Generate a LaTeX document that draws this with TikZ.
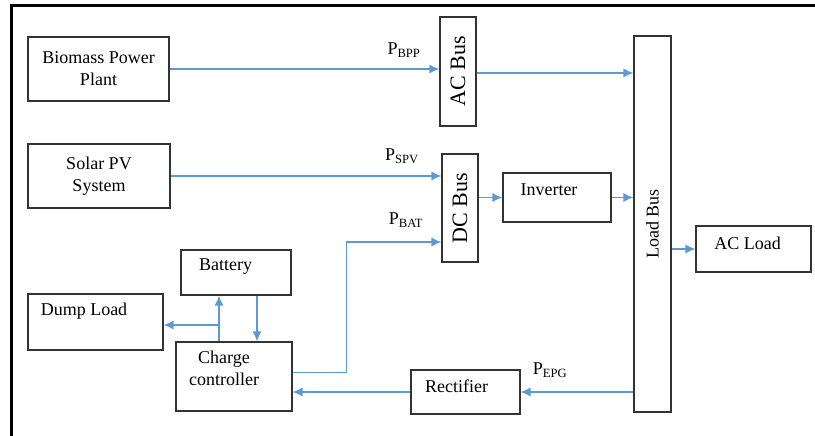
\documentclass[tikz,border=0pt]{standalone}
\usepackage{fontspec}
\setmainfont{Liberation Serif}
\usetikzlibrary{arrows.meta}
\definecolor{flowblue}{HTML}{5B9BD5}
\tikzset{
  box/.style={draw=black!80, line width=1.1pt, inner sep=0pt, align=center},
  flow/.style={draw=flowblue, line width=1.3pt, -{Latex[length=10pt,width=9pt]}},
  power/.style={inner sep=0pt}
}
\begin{document}
\begin{tikzpicture}[x=1pt,y=-1pt]
  \fontsize{18}{22}\selectfont
  \useasboundingbox (0,0) rectangle (815,436);
  \draw[line width=3pt] (11,436) -- (11,6) -- (815,6);
  % sources
  \node[box, minimum width=141, minimum height=64] (bpp) at (98.5,69) {Biomass Power\\Plant};
  \node[box, minimum width=142, minimum height=64] (spv) at (99,176) {Solar PV\\System};
  % buses
  \node[box, minimum width=36, minimum height=109] (acbus) at (458,71.5) {\fontsize{22}{24}\selectfont\rotatebox{90}{AC Bus}};
  \node[box, minimum width=36, minimum height=108] (dcbus) at (460,208) {\fontsize{22}{24}\selectfont\rotatebox{90}{DC Bus}};
  \node[box, minimum width=37, minimum height=376] (lbus) at (652.5,224) {\rotatebox{90}{Load Bus}};
  % converters and loads
  \node[box, minimum width=108, minimum height=49] (inv) at (557,197.5) {};
  \node (inv-t) at (549,190) {Inverter};
  \node[box, minimum width=115, minimum height=46] (acload) at (753.5,249) {};
  \node (acload-t) at (747.5,243) {AC Load};
  \node[box, minimum width=109, minimum height=44] (rect) at (465.5,392) {};
  \node (rect-t) at (456.5,386) {Rectifier};
  \node[box, minimum width=110, minimum height=45] (bat) at (236,272.5) {};
  \node (bat-t) at (225.5,267) {Battery};
  \node[box, minimum width=135, minimum height=56] (dump) at (95.5,322) {};
  \node (dump-t) at (84,311) {Dump Load};
  \node[box, minimum width=116, minimum height=69] (cc) at (234,376.5) {};
  \node[align=center] (cc-t) at (224,368) {Charge\\controller};
  % power flows
  \draw[flow] (bpp.east) -- (bpp.east -| acbus.west);
  \draw[flow] ([yshift=-1.5pt]acbus.east) -- ([yshift=-1.5pt]acbus.east -| lbus.west);
  \draw[flow] (spv.east) -- (spv.east -| dcbus.west);
  \draw[flow] (inv.west -| dcbus.east) -- (inv.west);
  \draw[flow] (inv.east) -- (inv.east -| lbus.west);
  \draw[flow] (acload.west -| lbus.east) -- (acload.west);
  \draw[flow] ([yshift=4pt]cc.east) -- ++(54,0) |- ([yshift=-34pt]dcbus.west);
  \draw[flow] (rect.east -| lbus.west) -- (rect.east);
  \draw[flow] (rect.west) -- (rect.west -| cc.east);
  \draw[flow] ([xshift=-15pt]cc.north) -- ([xshift=-15pt]cc.north |- bat.south);
  \coordinate (junc) at (219,325);
  \draw[flow] (junc) -- (junc -| dump.east);
  \draw[flow] ([xshift=21pt]bat.south) -- ([xshift=21pt]bat.south |- cc.north);
  % labels
  \node[power] (p-bpp) at (404,50) {P\textsubscript{BPP}};
  \node[power] (p-spv) at (402,156) {P\textsubscript{SPV}};
  \node[power] (p-bat) at (406,220) {P\textsubscript{BAT}};
  \node[power] (p-epg) at (550,370) {P\textsubscript{EPG}};
\end{tikzpicture}
\end{document}
